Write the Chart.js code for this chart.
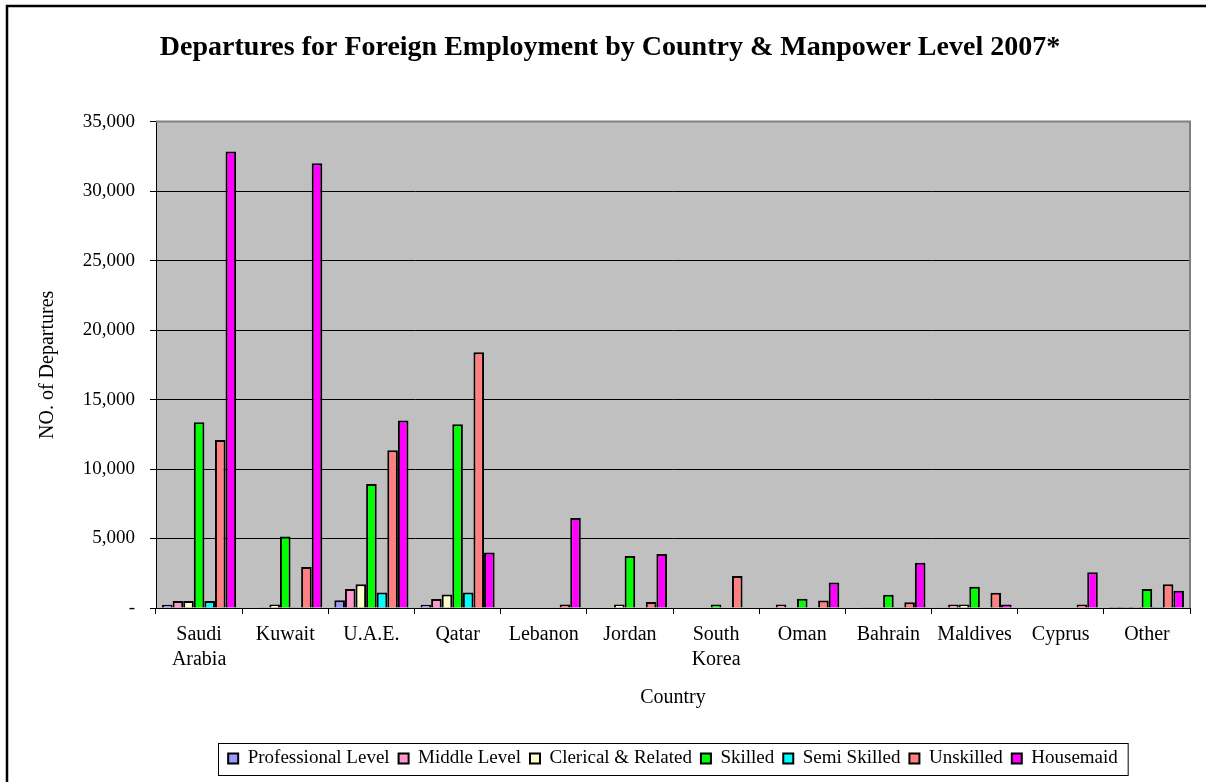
<!DOCTYPE html>
<html>
<head>
<meta charset="utf-8">
<script src="https://cdn.jsdelivr.net/npm/chart.js@4/dist/chart.umd.min.js"></script>
<style>
  body { margin: 0; background: #fff; }
  #wrap { width: 1206px; height: 782px; }
</style>
</head>
<body>
<div id="wrap"><canvas id="chartDepartures" width="1206" height="782"></canvas></div>
<script>
// categorias (paises) y series por nivel de mano de obra
const countries = [['Saudi', 'Arabia'], 'Kuwait', 'U.A.E.', 'Qatar', 'Lebanon', 'Jordan',
  ['South', 'Korea'], 'Oman', 'Bahrain', 'Maldives', 'Cyprus', 'Other'];

const professional = [240, 0, 550, 240, 0, 0, 0, 40, 0, 60, 0, 80];
const middleLevel = [500, 50, 1370, 650, 0, 0, 0, 250, 50, 250, 0, 80];
const clerical = [500, 250, 1700, 980, 0, 250, 0, 40, 50, 250, 0, 80];
const skilled = [13370, 5150, 8930, 13220, 0, 3740, 250, 670, 960, 1530, 0, 1370];
const semiSkilled = [500, 50, 1120, 1120, 0, 0, 0, 40, 50, 0, 0, 80];
const unskilled = [12080, 2950, 11360, 18400, 250, 430, 2300, 540, 410, 1100, 250, 1700];
const housemaid = [32850, 32000, 13500, 4000, 6470, 3880, 0, 1840, 3260, 250, 2570, 1240];

const yTicks = [0, 5000, 10000, 15000, 20000, 25000, 30000, 35000];

const serif = "'Liberation Serif', 'Times New Roman', serif";
Chart.defaults.font.family = serif;
Chart.defaults.color = '#000';

const makeSet = (label, data, color) => ({
  label: label,
  data: data,
  backgroundColor: color,
  borderColor: '#000',
  borderWidth: 2,
  borderSkipped: 'bottom',
  barPercentage: 1,
  categoryPercentage: 0.86
});

// Fondo gris del area, marco exterior y caja de la leyenda
const excelLook = {
  id: 'excelLook',
  beforeDraw(chart) {
    const { ctx, chartArea: a } = chart;
    ctx.save();
    ctx.fillStyle = '#fff';
    ctx.fillRect(0, 0, chart.width, chart.height);
    ctx.fillStyle = '#c0c0c0';
    ctx.fillRect(a.left, a.top, a.right - a.left, a.bottom - a.top);
    ctx.restore();
  },
  afterDraw(chart) {
    const { ctx, chartArea: a, legend } = chart;
    ctx.save();
    // borde gris arriba y a la derecha
    ctx.strokeStyle = '#808080';
    ctx.lineWidth = 2;
    ctx.beginPath();
    ctx.moveTo(a.left, a.top);
    ctx.lineTo(a.right, a.top);
    ctx.lineTo(a.right, a.bottom);
    ctx.stroke();
    // marco de todo el grafico
    ctx.strokeStyle = '#000';
    ctx.lineWidth = 2.5;
    ctx.strokeRect(7, 6, chart.width + 10, chart.height + 10);
    // caja de la leyenda
    const boxes = legend.legendHitBoxes;
    let left = Math.min(...boxes.map(b => b.left));
    let right = Math.max(...boxes.map(b => b.left + b.width));
    let top = Math.min(...boxes.map(b => b.top));
    ctx.lineWidth = 1;
    ctx.strokeRect(Math.round(left - 10) + 0.5, Math.round(top - 6) + 0.5, right - left + 20, 32);
    ctx.restore();
  }
};

const data = {
  labels: countries,
  datasets: [
    makeSet('Professional Level', professional, '#9999ff'),
    makeSet('Middle Level', middleLevel, '#ff99cc'),
    makeSet('Clerical & Related', clerical, '#ffffcc'),
    makeSet('Skilled', skilled, '#00ff00'),
    makeSet('Semi Skilled', semiSkilled, '#00ffff'),
    makeSet('Unskilled', unskilled, '#ff8080'),
    makeSet('Housemaid', housemaid, '#ff00ff')
  ]
};

const config = {
  type: 'bar',
  data: data,
  options: {
    responsive: false,
    animation: false,
    layout: { padding: { left: 30, right: 16, top: 0, bottom: 4 } },
    plugins: {
      title: {
        display: true,
        text: 'Departures for Foreign Employment by Country & Manpower Level 2007*',
        color: '#000',
        font: { family: serif, size: 28, weight: 'bold' },
        padding: { top: 31, bottom: 57 }
      },
      legend: {
        position: 'bottom',
        fullSize: false,
        labels: {
          color: '#000',
          font: { family: serif, size: 19 },
          boxWidth: 10,
          boxHeight: 10,
          padding: 9
        }
      },
      tooltip: { enabled: false }
    },
    scales: {
      x: {
        grid: { display: true, drawOnChartArea: false, drawTicks: true, tickLength: 6, color: '#000', offset: true },
        border: { color: '#000', width: 1 },
        ticks: { color: '#000', font: { family: serif, size: 20, lineHeight: 1.25 }, padding: 8, maxRotation: 0, autoSkip: false },
        title: { display: true, text: 'Country', color: '#000', font: { family: serif, size: 20 }, padding: { top: 0, bottom: 30 } },
        afterFit: (scale) => { scale.height = 132; }
      },
      y: {
        min: 0,
        max: 35000,
        afterBuildTicks: (scale) => { scale.ticks = yTicks.map(v => ({ value: v })); },
        grid: { color: '#000', lineWidth: 1, tickLength: 6 },
        border: { color: '#000', width: 1 },
        ticks: {
          color: '#000',
          font: { family: serif, size: 19 },
          padding: 15,
          callback: (v) => v === 0 ? '-' : v.toLocaleString('en-US')
        },
        title: { display: true, text: 'NO. of Departures', color: '#000', font: { family: serif, size: 20 }, padding: { top: 6, bottom: 0 } },
        afterFit: (scale) => { scale.width = 126; }
      }
    }
  },
  plugins: [excelLook]
};

const myChart = new Chart(document.getElementById('chartDepartures'), config);
</script>
</body>
</html>
